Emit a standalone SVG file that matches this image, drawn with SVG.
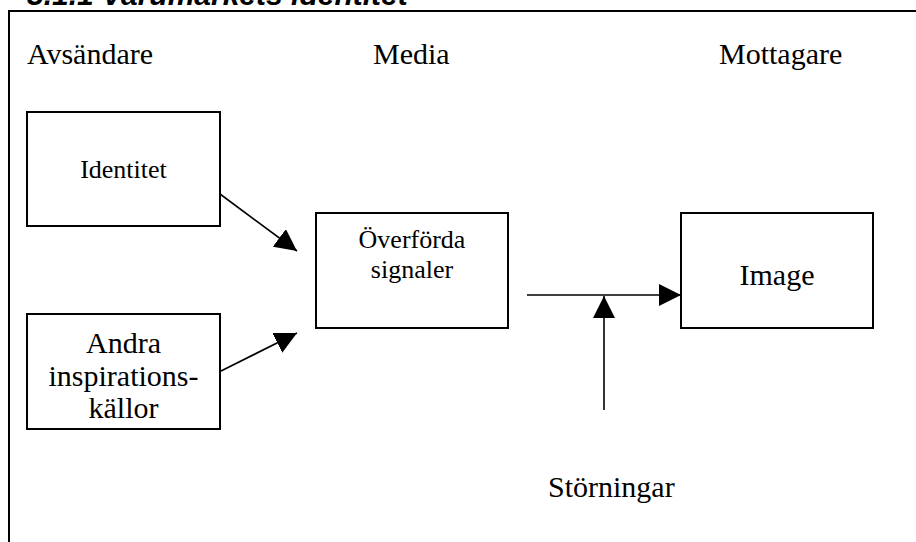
<svg xmlns="http://www.w3.org/2000/svg" width="916" height="542" viewBox="0 0 916 542">
<style>
.box{fill:#fff;stroke:#000;stroke-width:2}
.t{font-family:"Liberation Serif","Times New Roman",serif;fill:#000}
.big{font-size:30px}
.small{font-size:26px}
.c{stroke:#000;stroke-width:1.6;fill:none;marker-end:url(#ah)}
</style>
<defs>
<marker id="ah" markerUnits="userSpaceOnUse" markerWidth="22" markerHeight="22" viewBox="0 0 22 22" refX="22" refY="11" orient="auto">
<path d="M0,0 L22,11 L0,22 z" fill="#000"/>
</marker>
</defs>
<rect width="916" height="542" fill="#fff"/>
<text x="27" y="5" font-family="'Liberation Sans',Arial,sans-serif" font-size="30" font-weight="bold" font-style="italic">3.1.1 Varumärkets identitet</text>
<rect x="9" y="11" width="920" height="540" fill="none" stroke="#000" stroke-width="2"/>
<g id="headers">
<text class="t big" x="27" y="64">Avsändare</text>
<text class="t big" x="373" y="64">Media</text>
<text class="t big" x="719" y="64">Mottagare</text>
</g>
<g id="identitet">
<rect class="box" x="27" y="112" width="193" height="114"/>
<text class="t small" x="123.5" y="178" text-anchor="middle">Identitet</text>
</g>
<g id="andra">
<rect class="box" x="27" y="314" width="193" height="115"/>
<text class="t big" x="123.5" text-anchor="middle"><tspan x="123.5" y="353">Andra</tspan><tspan x="123.5" y="386">inspirations-</tspan><tspan x="123.5" y="418">källor</tspan></text>
</g>
<g id="overforda">
<rect class="box" x="316" y="213" width="192" height="115"/>
<text class="t small" text-anchor="middle"><tspan x="412" y="248">Överförda</tspan><tspan x="412" y="278">signaler</tspan></text>
</g>
<g id="image">
<rect class="box" x="681" y="213" width="192" height="115"/>
<text class="t big" x="777" y="285" text-anchor="middle">Image</text>
</g>
<g id="storningar">
<text class="t big" x="548" y="497">Störningar</text>
</g>
<g id="connectors">
<line class="c" x1="220" y1="194" x2="297" y2="251"/>
<line class="c" x1="221" y1="371" x2="297" y2="333"/>
<line class="c" x1="527" y1="295" x2="681" y2="295"/>
<line class="c" x1="604" y1="410" x2="604" y2="296"/>
</g>
</svg>
